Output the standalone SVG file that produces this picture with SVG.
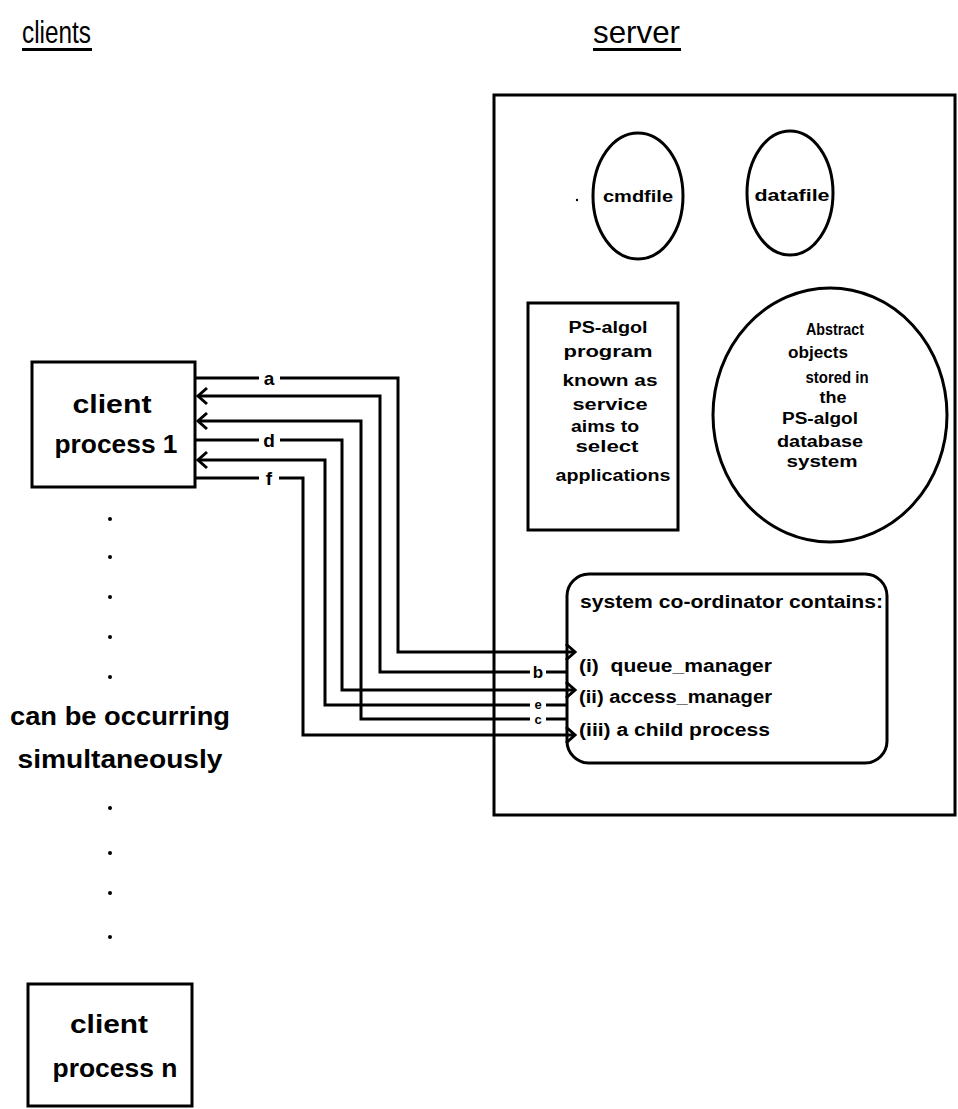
<svg xmlns="http://www.w3.org/2000/svg" width="958" height="1109" viewBox="0 0 958 1109">
<style>
.box{fill:none;stroke:#000;stroke-width:3}
.conn{fill:none;stroke:#000;stroke-width:3}
.hdr{font-family:"Liberation Sans",Arial,sans-serif;font-size:32px;fill:#000}
.cl{font-family:"Liberation Sans",Arial,sans-serif;font-weight:bold;font-size:26px;fill:#000;text-anchor:middle}
.sv{font-family:"Liberation Sans",Arial,sans-serif;font-weight:bold;font-size:16px;fill:#000;text-anchor:middle}
.co{font-family:"Liberation Sans",Arial,sans-serif;font-weight:bold;font-size:18px;fill:#000}
.lbl{font-family:"Liberation Sans",Arial,sans-serif;font-weight:bold;font-size:19px;fill:#000;text-anchor:middle}
.lbs{font-family:"Liberation Sans",Arial,sans-serif;font-weight:bold;font-size:13px;fill:#000;text-anchor:middle}
.lbm{font-family:"Liberation Sans",Arial,sans-serif;font-weight:bold;font-size:17px;fill:#000;text-anchor:middle}
.dot{fill:#000}
</style>
<defs>
<marker id="arr" markerUnits="userSpaceOnUse" markerWidth="14" markerHeight="20" refX="10" refY="9" orient="auto" overflow="visible">
<path d="M1,1 L10,9 L1,17" fill="none" stroke="#000" stroke-width="3"/>
</marker>
</defs>
<rect width="958" height="1109" fill="#fff"/>

<g id="headers">
<text class="hdr" x="22" y="43" textLength="69" lengthAdjust="spacingAndGlyphs">clients</text>
<rect x="22" y="48" width="70" height="3" fill="#000"/>
<text class="hdr" x="593" y="43" textLength="87" lengthAdjust="spacingAndGlyphs">server</text>
<rect x="593" y="48" width="88" height="3" fill="#000"/>
</g>

<g id="client1">
<rect class="box" x="32" y="362" width="163" height="125"/>
<text class="cl" x="112" y="413" textLength="79" lengthAdjust="spacingAndGlyphs">client</text>
<text class="cl" x="116" y="453" textLength="123" lengthAdjust="spacingAndGlyphs">process 1</text>
</g>

<g id="ellipsis">
<circle class="dot" cx="110" cy="519" r="2"/>
<circle class="dot" cx="110" cy="557" r="2"/>
<circle class="dot" cx="110" cy="597" r="2"/>
<circle class="dot" cx="110" cy="637" r="2"/>
<circle class="dot" cx="110" cy="677" r="2"/>
<text class="cl" x="120" y="725" textLength="220" lengthAdjust="spacingAndGlyphs">can be occurring</text>
<text class="cl" x="120" y="768" textLength="205" lengthAdjust="spacingAndGlyphs">simultaneously</text>
<circle class="dot" cx="110" cy="808" r="2"/>
<circle class="dot" cx="110" cy="853" r="2"/>
<circle class="dot" cx="110" cy="893" r="2"/>
<circle class="dot" cx="110" cy="937" r="2"/>
</g>

<g id="clientn">
<rect class="box" x="28" y="984" width="164" height="122"/>
<text class="cl" x="109" y="1033" textLength="78" lengthAdjust="spacingAndGlyphs">client</text>
<text class="cl" x="115" y="1077" textLength="125" lengthAdjust="spacingAndGlyphs">process n</text>
</g>

<g id="server">
<rect class="box" x="494" y="95" width="461" height="720"/>
<circle class="dot" cx="577" cy="200" r="1.2"/>
</g>

<g id="cmdfile">
<ellipse class="box" cx="638" cy="196" rx="45" ry="63"/>
<text class="sv" x="638" y="202" textLength="70" lengthAdjust="spacingAndGlyphs">cmdfile</text>
</g>

<g id="datafile">
<ellipse class="box" cx="790" cy="193" rx="43" ry="62"/>
<text class="sv" x="792" y="201" textLength="75" lengthAdjust="spacingAndGlyphs">datafile</text>
</g>

<g id="psalgol-program">
<rect class="box" x="528" y="303" width="150" height="227"/>
<text class="sv" x="608" y="333" textLength="79" lengthAdjust="spacingAndGlyphs">PS-algol</text>
<text class="sv" x="608" y="357" textLength="89" lengthAdjust="spacingAndGlyphs">program</text>
<text class="sv" x="610" y="386" textLength="95" lengthAdjust="spacingAndGlyphs">known as</text>
<text class="sv" x="610" y="410" textLength="75" lengthAdjust="spacingAndGlyphs">service</text>
<text class="sv" x="605" y="432" textLength="68" lengthAdjust="spacingAndGlyphs">aims to</text>
<text class="sv" x="607" y="452" textLength="63" lengthAdjust="spacingAndGlyphs">select</text>
<text class="sv" x="613" y="481" textLength="115" lengthAdjust="spacingAndGlyphs">applications</text>
</g>

<g id="abstract-objects">
<ellipse class="box" cx="830" cy="415" rx="117" ry="127"/>
<text class="sv" x="835" y="335" textLength="58" lengthAdjust="spacingAndGlyphs">Abstract</text>
<text class="sv" x="818" y="358" textLength="60" lengthAdjust="spacingAndGlyphs">objects</text>
<text class="sv" x="837" y="383" textLength="63" lengthAdjust="spacingAndGlyphs">stored in</text>
<text class="sv" x="833" y="403" textLength="27" lengthAdjust="spacingAndGlyphs">the</text>
<text class="sv" x="820" y="424" textLength="76" lengthAdjust="spacingAndGlyphs">PS-algol</text>
<text class="sv" x="820" y="447" textLength="86" lengthAdjust="spacingAndGlyphs">database</text>
<text class="sv" x="822" y="467" textLength="71" lengthAdjust="spacingAndGlyphs">system</text>
</g>

<g id="coordinator">
<rect class="box" x="567" y="574" width="320" height="189" rx="22"/>
<text class="co" x="580" y="608" textLength="303" lengthAdjust="spacingAndGlyphs">system co-ordinator contains:</text>
<text class="co" x="579" y="672" textLength="193" lengthAdjust="spacingAndGlyphs" xml:space="preserve">(i)  queue_manager</text>
<text class="co" x="579" y="703" textLength="193" lengthAdjust="spacingAndGlyphs">(ii) access_manager</text>
<text class="co" x="579" y="736" textLength="191" lengthAdjust="spacingAndGlyphs">(iii) a child process</text>
</g>

<g id="connectors">
<path class="conn" d="M196,378 H259 M280,378 H398 V652 H575" marker-end="url(#arr)"/>
<path class="conn" d="M567,672 H546 M530,672 H380 V396 H198" marker-end="url(#arr)"/>
<path class="conn" d="M567,719 H546 M530,719 H361 V421 H198" marker-end="url(#arr)"/>
<path class="conn" d="M196,440 H259 M280,440 H342 V690 H575" marker-end="url(#arr)"/>
<path class="conn" d="M567,705 H546 M530,705 H325 V460 H198" marker-end="url(#arr)"/>
<path class="conn" d="M196,478 H259 M279,478 H303 V735 H575" marker-end="url(#arr)"/>
<text class="lbl" x="269" y="385">a</text>
<text class="lbl" x="269" y="447">d</text>
<text class="lbl" x="269" y="485">f</text>
<text class="lbm" x="538" y="678">b</text>
<text class="lbs" x="538" y="709">e</text>
<text class="lbs" x="538" y="724">c</text>
</g>
</svg>
